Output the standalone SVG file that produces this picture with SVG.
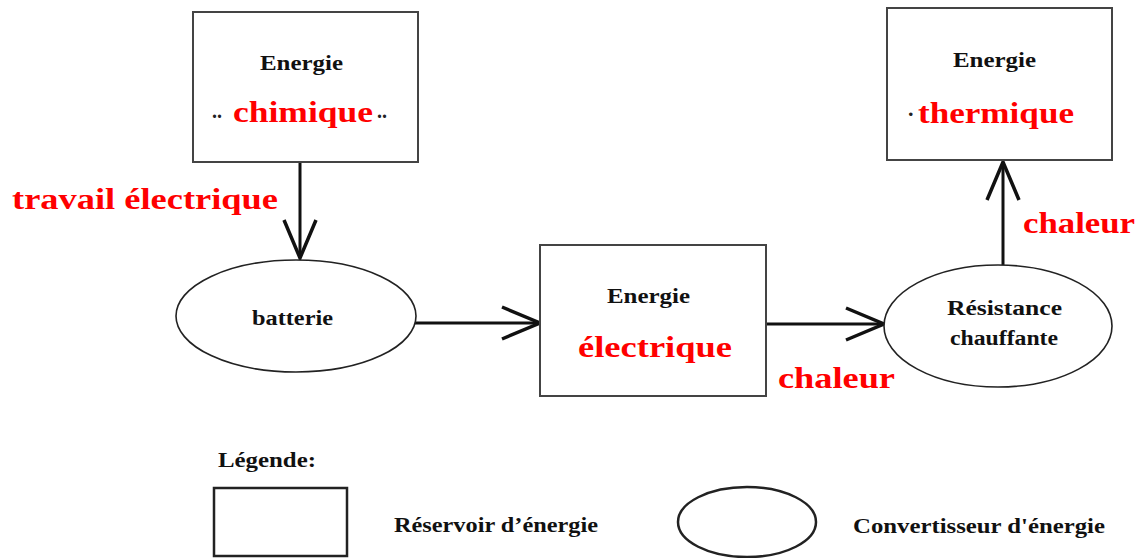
<svg xmlns="http://www.w3.org/2000/svg" width="1148" height="558" viewBox="0 0 1148 558">
<style>
.box{fill:#fff;stroke:#444;stroke-width:2}
.ell{fill:#fff;stroke:#222;stroke-width:1.6}
.lbox{fill:#fff;stroke:#222;stroke-width:2.5}
.lell{fill:#fff;stroke:#222;stroke-width:2.5}
.blk{font-family:"Liberation Serif","Times New Roman",serif;font-weight:bold;font-size:20px;fill:#111}
.red{font-family:"Liberation Serif","Times New Roman",serif;font-weight:bold;font-size:30px;fill:#ff0000}
.dot{font-family:"Liberation Serif","Times New Roman",serif;font-weight:bold;font-size:22px;fill:#222}
.con{stroke:#111;stroke-width:3;fill:none}
</style>
<defs>
<marker id="arr" markerUnits="userSpaceOnUse" viewBox="-42 -20 44 40" refX="0" refY="0" markerWidth="44" markerHeight="40" orient="auto" overflow="visible">
<path d="M -38 -16 L 0 0 L -38 16" fill="none" stroke="#111" stroke-width="3.5" stroke-linejoin="miter"/>
</marker>
</defs>
<rect width="1148" height="558" fill="#fff"/>

<g id="connectors">
<line class="con" x1="300" y1="162" x2="300" y2="258" marker-end="url(#arr)"/>
<line class="con" x1="415" y1="323" x2="540" y2="323" marker-end="url(#arr)"/>
<line class="con" x1="763" y1="324" x2="884" y2="324" marker-end="url(#arr)"/>
<line class="con" x1="1003" y1="265" x2="1003" y2="162" marker-end="url(#arr)"/>
</g>

<g id="chimique">
<rect class="box" x="193" y="12" width="225" height="150"/>
<text class="blk" x="260" y="70" textLength="83" lengthAdjust="spacingAndGlyphs">Energie</text>
<text class="dot" x="212" y="118" textLength="10" lengthAdjust="spacingAndGlyphs">..</text>
<text class="red" x="233" y="122" textLength="140" lengthAdjust="spacingAndGlyphs">chimique</text>
<text class="dot" x="377" y="118" textLength="10" lengthAdjust="spacingAndGlyphs">..</text>
</g>

<g id="travail">
<text class="red" x="12" y="209" textLength="266" lengthAdjust="spacingAndGlyphs">travail électrique</text>
</g>

<g id="batterie">
<ellipse class="ell" cx="296" cy="316" rx="120" ry="56"/>
<text class="blk" x="252" y="325" textLength="81" lengthAdjust="spacingAndGlyphs">batterie</text>
</g>

<g id="electrique">
<rect class="box" x="540" y="245" width="226" height="151"/>
<text class="blk" x="607" y="303" textLength="83" lengthAdjust="spacingAndGlyphs">Energie</text>
<text class="red" x="578" y="357" textLength="154" lengthAdjust="spacingAndGlyphs">électrique</text>
</g>

<g id="chaleur1">
<text class="red" x="778" y="388" textLength="117" lengthAdjust="spacingAndGlyphs">chaleur</text>
</g>

<g id="resistance">
<ellipse class="ell" cx="998" cy="326" rx="114" ry="61"/>
<text class="blk" x="947" y="315" textLength="115" lengthAdjust="spacingAndGlyphs">Résistance</text>
<text class="blk" x="950" y="345" textLength="108" lengthAdjust="spacingAndGlyphs">chauffante</text>
</g>

<g id="thermique">
<rect class="box" x="887" y="8" width="225" height="152"/>
<text class="blk" x="953" y="67" textLength="83" lengthAdjust="spacingAndGlyphs">Energie</text>
<text class="dot" x="908" y="116">.</text>
<text class="red" x="918" y="123" textLength="156" lengthAdjust="spacingAndGlyphs">thermique</text>
</g>

<g id="chaleur2">
<text class="red" x="1023" y="233" textLength="112" lengthAdjust="spacingAndGlyphs">chaleur</text>
</g>

<g id="legende">
<text class="blk" x="218" y="467" textLength="98" lengthAdjust="spacingAndGlyphs">Légende:</text>
<rect class="lbox" x="214" y="488" width="133" height="68"/>
<text class="blk" x="394" y="532" textLength="204" lengthAdjust="spacingAndGlyphs">Réservoir d’énergie</text>
<ellipse class="lell" cx="747" cy="522" rx="69" ry="35"/>
<text class="blk" x="853" y="533" textLength="252" lengthAdjust="spacingAndGlyphs">Convertisseur d'énergie</text>
</g>
</svg>
